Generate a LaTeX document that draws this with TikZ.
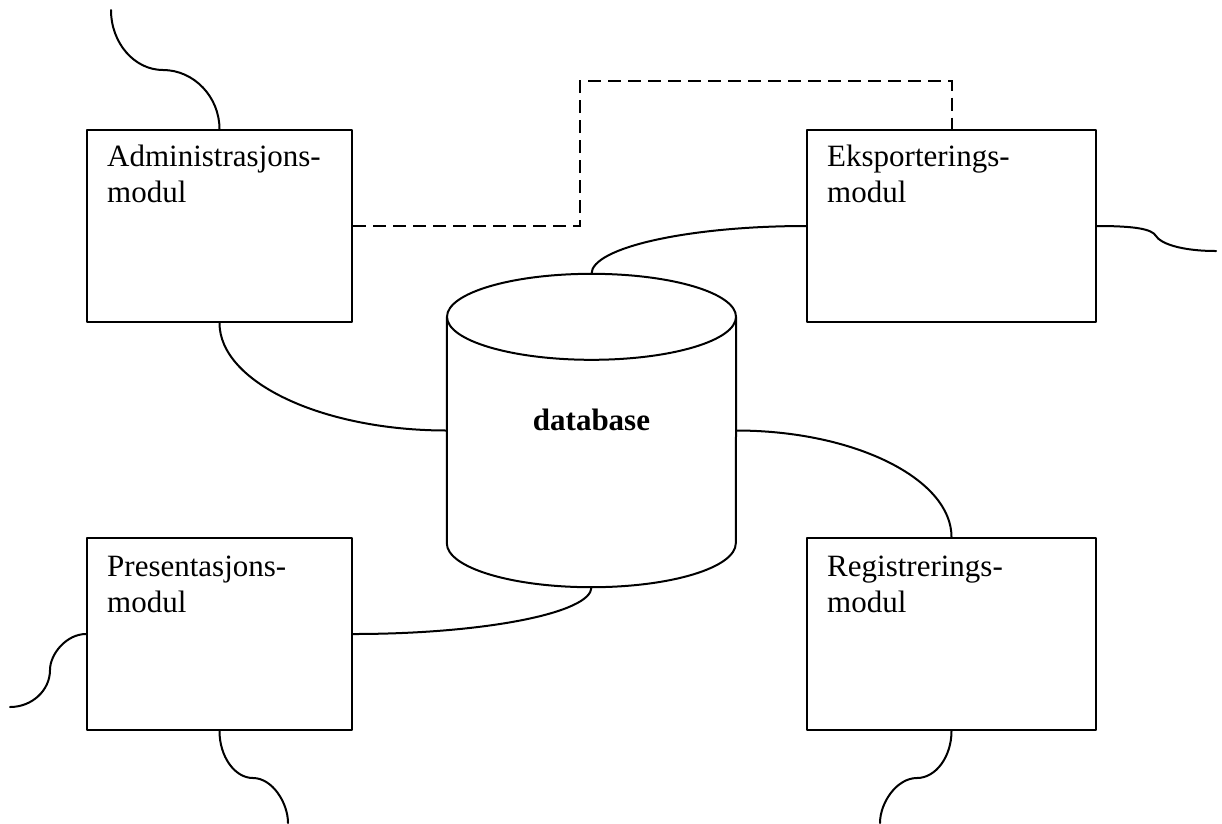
\documentclass[tikz,border=0pt]{standalone}
\usepackage{fontspec}
\setmainfont{Liberation Serif}
\begin{document}
\begin{tikzpicture}[x=1pt,y=-1pt,
  ln/.style={line width=2pt, line cap=round, line join=round},
  lbox/.style={draw, ln, minimum width=265pt, minimum height=192pt, inner sep=0pt},
  rbox/.style={draw, ln, minimum width=289pt, minimum height=192pt, inner sep=0pt},
  lbl/.style={font=\fontsize{31}{36}\selectfont, align=left, inner sep=0pt, anchor=base west},
  wire/.style={ln},
  dashwire/.style={line width=2pt, dash pattern=on 13pt off 7pt}
]
\useasboundingbox (0,0) rectangle (1222,823);

% boxes
\node[lbox] (admin) at (219.5,226) {};
\node[rbox] (eksport) at (951.5,226) {};
\node[lbox] (pres) at (219.5,634) {};
\node[rbox] (reg) at (951.5,634) {};

\node[lbl] (admintxt) at ([xshift=21pt,yshift=-73pt]admin.north west) {Administrasjons-\\modul};
\node[lbl] (eksporttxt) at ([xshift=21pt,yshift=-73pt]eksport.north west) {Eksporterings-\\modul};
\node[lbl] (prestxt) at ([xshift=21pt,yshift=-75pt]pres.north west) {Presentasjons-\\modul};
\node[lbl] (regtxt) at ([xshift=21pt,yshift=-75pt]reg.north west) {Registrerings-\\modul};

% database cylinder
\node[minimum width=289pt, minimum height=313pt, inner sep=0pt] (db) at (591.5,430.5) {};
\draw[ln] ([yshift=-43pt]db.north) ellipse [x radius=144.5pt, y radius=43pt];
\draw[ln] ([yshift=-43pt]db.north west) -- ([yshift=44pt]db.south west)
  arc[start angle=180, end angle=360, x radius=144.5pt, y radius=44pt]
  -- ([yshift=-43pt]db.north east);
\node[font=\fontsize{31}{36}\selectfont\bfseries, anchor=base, inner sep=0pt] (dblabel) at (db.center) {database};

% free ends
\coordinate (atop) at (111,10);
\coordinate (eend) at (1216,251);
\coordinate (pleft) at (10,707);
\coordinate (pbot) at (288,823);
\coordinate (rbot) at (880,823);
\coordinate (dbend) at (580,81);

% connectors to database
\draw[wire] (admin.south) .. controls (219.5,382) and (322,430.5) .. (db.west);
\draw[wire] (db.east) .. controls (854.5,430.5) and (951.5,479) .. (reg.north);
\draw[wire] (db.north) .. controls (591.5,247.6) and (688.5,226) .. (eksport.west);
\draw[wire] (pres.east) .. controls (483.7,634) and (591.5,613) .. (db.south);

% dashed link
\draw[dashwire] (admin.east) -| (dbend) -| (eksport.north);

% wiggles
\draw[wire] (atop) .. controls (111,43) and (134.4,70) .. (163,70)
  .. controls (194,70) and (219.5,97) .. (admin.north);
\draw[wire] (eksport.east) .. controls (1135,226) and (1152,229) .. (1156,236)
  .. controls (1160,243) and (1180,251) .. (eend);
\draw[wire] (pres.west) .. controls (66.6,634) and (50,653.8) .. (50,670)
  .. controls (50,690.4) and (32,707) .. (pleft);
\draw[wire] (pres.south) .. controls (219.5,756.4) and (234.6,778) .. (253,778)
  .. controls (272.3,778) and (288,802.8) .. (pbot);
\draw[wire] (reg.south) .. controls (951.5,756.4) and (936,778) .. (917,778)
  .. controls (896.6,778) and (880,802.8) .. (rbot);
\end{tikzpicture}
\end{document}
